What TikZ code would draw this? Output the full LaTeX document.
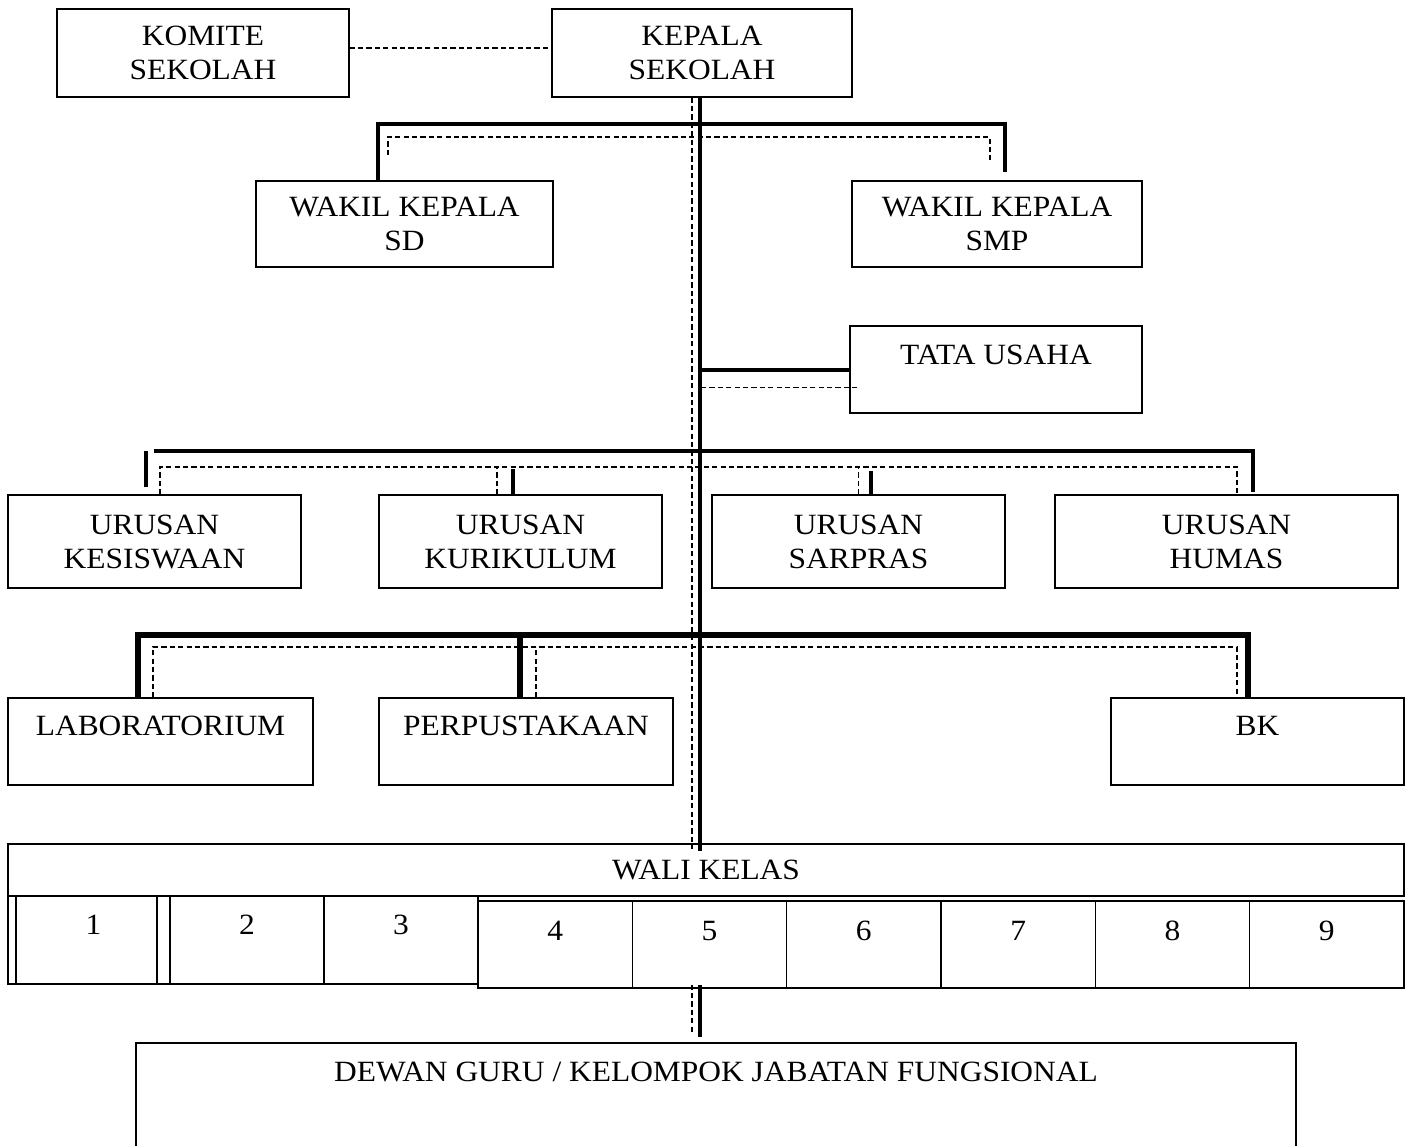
\documentclass[tikz,border=0pt]{standalone}
\usepackage{fontspec}
\setmainfont{Liberation Serif}[FakeStretch=1.07]
\usepackage{tikz}
\usetikzlibrary{positioning}

\tikzset{
kotak/.style={draw,line width=0.6pt,align=center,inner sep=0pt},
naik/.style={text height=9.7pt,text depth=#1},
tebal/.style={line width=2pt},
tebalsekali/.style={line width=3pt},
putus/.style={line width=0.8pt,dash pattern=on 2.6pt off 1.6pt}
}

\begin{document}
\begin{tikzpicture}[x=0.5pt,y=-0.5pt,font=\fontsize{14.7}{17}\selectfont]
\useasboundingbox (0,0) rectangle (1411,1145);
\node[kotak,minimum width=146pt,minimum height=44pt] (komite) at (203,53) {KOMITE\\SEKOLAH};
\node[kotak,minimum width=150pt,minimum height=44pt] (kepala) at (702,53) {KEPALA\\SEKOLAH};
\node[kotak,minimum width=148.5pt,minimum height=43pt] (wsd) at (404.5,224) {WAKIL KEPALA\\SD};
\node[kotak,minimum width=145pt,minimum height=43pt] (wsmp) at (997,224) {WAKIL KEPALA\\SMP};
\node[kotak,naik=15pt,minimum width=146pt,minimum height=43.5pt] (tu) at (996,369.5) {TATA USAHA};
\node[kotak,minimum width=146.5pt,minimum height=46.5pt] (kesiswaan) at (154.5,541.5) {URUSAN\\KESISWAAN};
\node[kotak,minimum width=141.5pt,minimum height=46.5pt] (kurikulum) at (520.5,541.5) {URUSAN\\KURIKULUM};
\node[kotak,minimum width=146.5pt,minimum height=46.5pt] (sarpras) at (858.5,541.5) {URUSAN\\SARPRAS};
\node[kotak,minimum width=171.5pt,minimum height=46.5pt] (humas) at (1226.5,541.5) {URUSAN\\HUMAS};
\node[kotak,naik=15.5pt,minimum width=152.5pt,minimum height=43.5pt] (lab) at (160.5,741.5) {LABORATORIUM};
\node[kotak,naik=15.5pt,minimum width=147pt,minimum height=43.5pt] (perpus) at (526,741.5) {PERPUSTAKAAN};
\node[kotak,naik=15.5pt,minimum width=146.5pt,minimum height=43.5pt] (bk) at (1257.5,741.5) {BK};
\node[kotak,minimum width=698pt,minimum height=26pt] (wali) at (706,870) {WALI KELAS};
\node[kotak,minimum width=4pt,minimum height=44pt] (s1) at (12,940) {};
\node[kotak,naik=15pt,minimum width=70.5pt,minimum height=44pt] (k1) at (86.5,940) {\hspace*{7pt}1};
\node[kotak,minimum width=6.5pt,minimum height=44pt] (s2) at (163.5,940) {};
\node[kotak,naik=15pt,minimum width=77pt,minimum height=44pt] (k2) at (247,940) {2};
\node[kotak,naik=15pt,minimum width=77pt,minimum height=44pt] (k3) at (401,940) {3};
\foreach \i in {4,...,9}
  \node[kotak,naik=13.5pt,minimum width=77.17pt,minimum height=43.5pt] (k\i) at ({478+(\i-3.5)*154.33},944.5) {\i};
\node[kotak,naik=24.5pt,minimum width=580pt,minimum height=53.5pt] (dewan) at (716,1096.5) {DEWAN GURU / KELOMPOK JABATAN FUNGSIONAL};

\coordinate (tulang) at (700,0);
\coordinate (tulangp) at (692,0);
\draw[putus] ([yshift=2.5pt]komite.east) -- ([yshift=2.5pt]kepala.west);
\draw[tebal] (kepala.south -| tulang) -- ([yshift=-4pt]wali.north -| tulang);
\draw[putus] (kepala.south -| tulangp) -- ([yshift=-3pt]wali.north -| tulangp);

\coordinate (w1) at (378,124);
\coordinate (w2) at (1005,124);
\draw[tebal] (w1 |- wsd.north) -- (w1) -- (w2) -- ([yshift=-24pt]w2);
\coordinate (wp1) at (388,137);
\coordinate (wp2) at (990,137);
\draw[putus] ([yshift=-9pt]wp1) -- (wp1) -- (wp2) -- ([yshift=-11.5pt]wp2);

\draw[tebal] (tu.west -| tulang) -- (tu.west);
\draw[putus] ([xshift=4pt,yshift=-9pt]tu.west) -- ([yshift=-9pt]tu.west -| tulang);

\coordinate (u1) at (154,451);
\coordinate (u2) at (1253,451);
\draw[tebal] (u1) -- (u2) -- ([yshift=1pt]u2 |- humas.north);
\draw[tebal] ([xshift=-4.25pt,yshift=3.5pt]kesiswaan.north) -- ([xshift=-4.25pt,yshift=21.5pt]kesiswaan.north);
\draw[tebal] ([xshift=-3.75pt]kurikulum.north) -- ([xshift=-3.75pt,yshift=12.5pt]kurikulum.north);
\draw[tebal] ([xshift=6.25pt]sarpras.north) -- ([xshift=6.25pt,yshift=11.5pt]sarpras.north);
\coordinate (up1) at (160,467);
\coordinate (up2) at (1237,467);
\draw[putus] (up1 |- kesiswaan.north) -- (up1) -- (up2) -- (up2 |- humas.north);
\draw[putus] ([xshift=-11.75pt]kurikulum.north) -- ([xshift=-11.75pt]kurikulum.north |- up1);
\draw[putus] (sarpras.north) -- (sarpras.north |- up1);

\coordinate (l1) at (138,635);
\coordinate (l2) at (1248,635);
\draw[tebalsekali] (l1 |- lab.north) -- (l1) -- (l2) -- (l2 |- bk.north);
\draw[tebalsekali] ([xshift=-3pt]perpus.north) -- ([xshift=-3pt]perpus.north |- l1);
\coordinate (lp1) at (153,647);
\coordinate (lp2) at (1237,647);
\draw[putus] (lp1 |- lab.north) -- (lp1) -- (lp2) -- (lp2 |- bk.north);
\draw[putus] ([xshift=5pt]perpus.north) -- ([xshift=5pt]perpus.north |- lp1);

\draw[tebal] ([yshift=2pt]k5.south -| tulang) -- ([yshift=2.5pt]dewan.north -| tulang);
\draw[putus] ([yshift=2pt]k5.south -| tulangp) -- ([yshift=5pt]dewan.north -| tulangp);
\end{tikzpicture}
\end{document}
